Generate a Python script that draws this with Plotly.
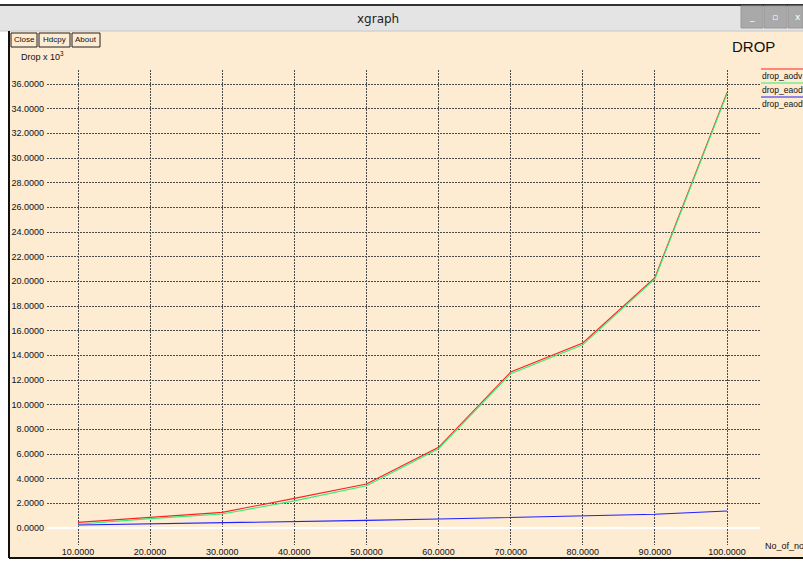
import plotly.graph_objects as go

nodes = [10, 20, 30, 40, 50, 60, 70, 80, 90, 100]
drop_aodv = [0.46, 0.87, 1.27, 2.40, 3.57, 6.54, 12.65, 15.00, 20.30, 35.30]
drop_eaodv = [0.30, 0.76, 1.13, 2.20, 3.43, 6.43, 12.50, 14.85, 20.20, 35.20]
drop_eaodv2 = [0.24, 0.32, 0.43, 0.50, 0.62, 0.73, 0.87, 1.00, 1.11, 1.38]
series_names = ["drop_aodv", "drop_eaodv", "drop_eaodv"]
series_colors = ["#ff2020", "#33ee77", "#2020ff"]
y_ticks = [i * 2 for i in range(19)]

W, H = 803, 561
BG = "#fdebd2"
FONT = "Liberation Sans"


def px(x):
    return x / W


def py(y):
    return 1 - y / H


fig = go.Figure()
for vals, name, col in [(drop_aodv, series_names[0], series_colors[0]),
                        (drop_eaodv, series_names[1], series_colors[1]),
                        (drop_eaodv2, series_names[2], series_colors[2])]:
    fig.add_trace(go.Scatter(x=nodes, y=vals, mode="lines", name=name,
                             line=dict(color=col, width=1.1), showlegend=False))

# axis ranges from pixel geometry
x_left, x_right = 47, 760
x10, x100 = 78, 727
sx = (x100 - x10) / 90.0
xr = [10 - (x10 - x_left) / sx, 100 + (x_right - x100) / sx]
y0p, y36p = 528, 84
sy = (y0p - y36p) / 36.0
y_top, y_bot = 70, 545
yr = [-(y_bot - y0p) / sy, (y0p - y_top) / sy]

shapes = []
shapes.append(dict(type="rect", xref="paper", yref="paper", x0=px(9), x1=px(803), y0=py(558), y1=py(30),
                   fillcolor=BG, line_width=0, layer="below"))
# title bar
shapes.append(dict(type="rect", xref="paper", yref="paper", x0=0, x1=1, y0=py(31), y1=py(6),
                   fillcolor="#e4e4e4", line_width=0, layer="below"))
shapes.append(dict(type="line", xref="paper", yref="paper", x0=0, x1=1, y0=py(5), y1=py(5),
                   line=dict(color="#333333", width=2), layer="below"))
shapes.append(dict(type="line", xref="paper", yref="paper", x0=0, x1=1, y0=py(31), y1=py(31),
                   line=dict(color="#c8c8c8", width=1), layer="below"))
# window buttons
for bx0, bx1 in [(741, 763), (764, 787), (788, 803)]:
    shapes.append(dict(type="rect", xref="paper", yref="paper", x0=px(bx0), x1=px(bx1), y0=py(28), y1=py(6),
                       fillcolor="#a9a9a9", line=dict(color="#999999", width=1), layer="below"))
annotations = []
for lbl, cx in [("_", 752), ("▫", 775), ("x", 798)]:
    annotations.append(dict(x=px(cx), y=py(17), xref="paper", yref="paper", text=lbl, showarrow=False,
                            xanchor="center", yanchor="middle",
                            font=dict(family="DejaVu Sans", size=9, color="white")))
# left and bottom borders
shapes.append(dict(type="line", xref="paper", yref="paper", x0=px(9), x1=px(9), y0=py(558), y1=py(31),
                   line=dict(color="#111111", width=2)))
shapes.append(dict(type="line", xref="paper", yref="paper", x0=px(9), x1=1, y0=py(558), y1=py(558),
                   line=dict(color="#111111", width=2)))
# buttons Close / Hdcpy / About
buttons = [("Close", 11, 37), ("Hdcpy", 39, 70), ("About", 72, 100)]
for label, bx0, bx1 in buttons:
    shapes.append(dict(type="rect", xref="paper", yref="paper", x0=px(bx0), x1=px(bx1), y0=py(47), y1=py(33),
                       fillcolor=BG, line=dict(color="#222222", width=1)))
    annotations.append(dict(x=px((bx0 + bx1) / 2), y=py(40), xref="paper", yref="paper", text=label,
                            showarrow=False, xanchor="center", yanchor="middle",
                            font=dict(family=FONT, size=8, color="#111111")))
# legend
for i, (name, col) in enumerate(zip(series_names, series_colors)):
    ly = 69 + 14 * i
    shapes.append(dict(type="line", xref="paper", yref="paper", x0=px(761), x1=1, y0=py(ly), y1=py(ly),
                       line=dict(color=col, width=1)))
    annotations.append(dict(x=px(760), y=py(ly + 7), xref="paper", yref="paper", text=name,
                            showarrow=False, xanchor="left", yanchor="middle",
                            font=dict(family=FONT, size=8.5, color="#111111")))

annotations += [
    dict(x=px(378), y=py(19), xref="paper", yref="paper", text="xgraph", showarrow=False,
         xanchor="center", yanchor="middle", font=dict(family="DejaVu Sans", size=12, color="#222222")),
    dict(x=px(753), y=py(46), xref="paper", yref="paper", text="DROP", showarrow=False,
         xanchor="center", yanchor="middle", font=dict(family=FONT, size=15, color="#111111")),
    dict(x=px(19), y=py(56), xref="paper", yref="paper", text="Drop x 10<sup>3</sup>", showarrow=False,
         xanchor="left", yanchor="middle", font=dict(family=FONT, size=9, color="#111111")),
    dict(x=px(763), y=py(546), xref="paper", yref="paper", text="No_of_nodes", showarrow=False,
         xanchor="left", yanchor="middle", font=dict(family=FONT, size=9, color="#111111")),
]

fig.update_layout(
    width=W, height=H,
    margin=dict(l=0, r=0, t=0, b=0),
    paper_bgcolor="white",
    plot_bgcolor="rgba(0,0,0,0)",
    shapes=shapes,
    annotations=annotations,
    xaxis=dict(domain=[px(x_left), px(x_right)], range=xr, tickvals=nodes,
               ticktext=[f"{v:.4f}" for v in nodes], showgrid=True, gridcolor="#4a4a4a",
               griddash="2px,1px", gridwidth=1, zeroline=False, showline=False, ticks="",
               tickfont=dict(family=FONT, size=9, color="#111111"), fixedrange=True),
    yaxis=dict(domain=[py(y_bot), py(y_top)], range=yr, tickvals=y_ticks,
               ticktext=[f"{v:.4f}" for v in y_ticks], showgrid=True, gridcolor="#4a4a4a",
               griddash="2px,1px", gridwidth=1, zeroline=True, zerolinecolor="white", zerolinewidth=1.5,
               showline=False, ticks="", ticklabelstandoff=2,
               tickfont=dict(family=FONT, size=9, color="#111111"), fixedrange=True),
    showlegend=False,
)

fig.write_html("out.html", config={"displayModeBar": False},
               post_script="document.body.style.margin='0';document.body.style.overflow='hidden';")
